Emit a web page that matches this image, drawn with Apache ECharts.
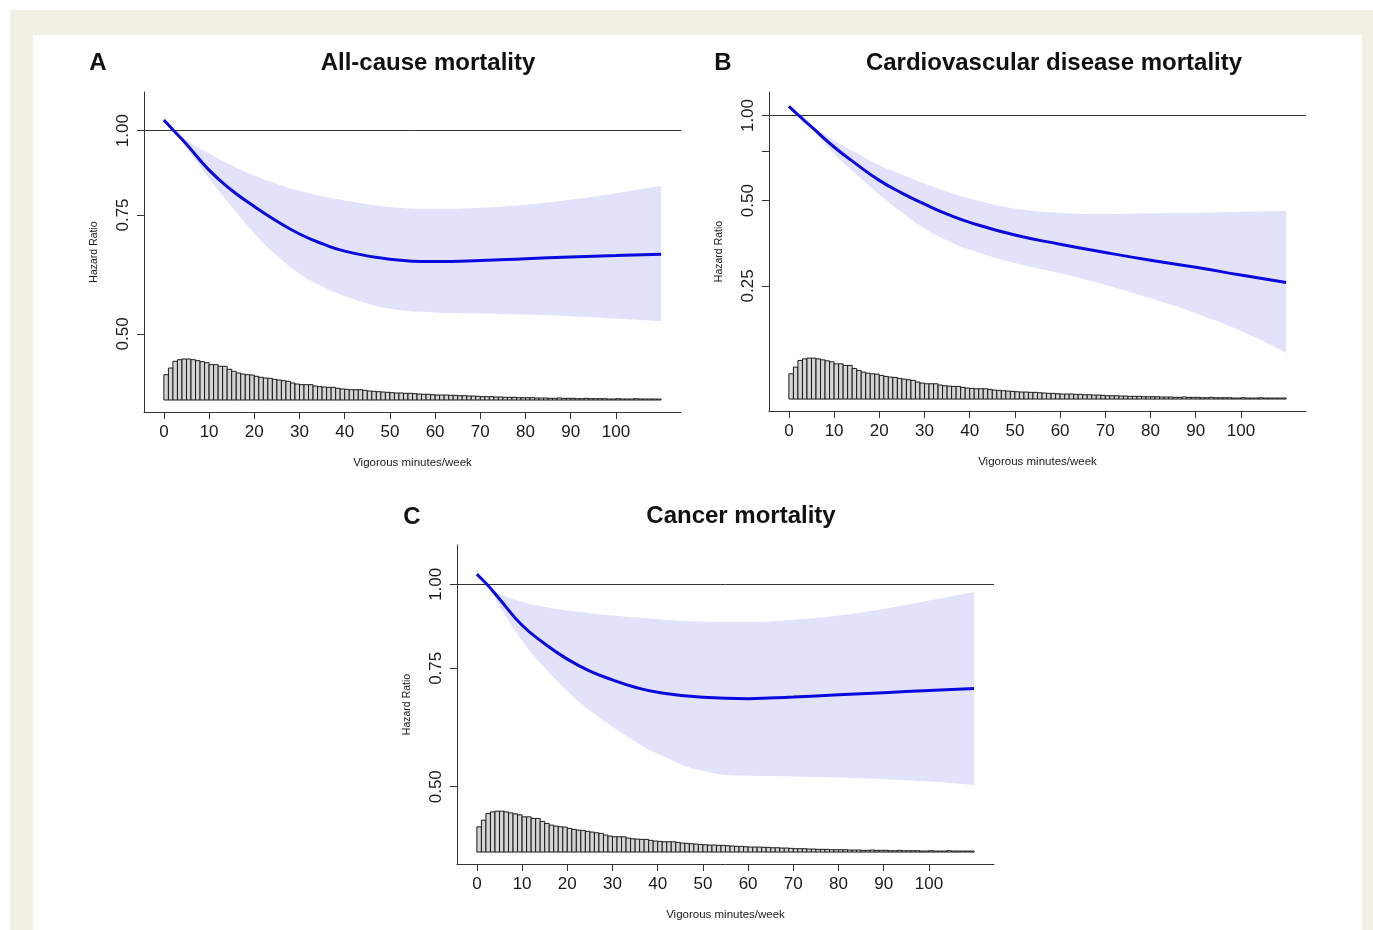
<!DOCTYPE html>
<html><head><meta charset="utf-8">
<script src="https://cdn.jsdelivr.net/npm/echarts@6/dist/echarts.min.js"></script>
<style>
html,body{margin:0;padding:0;background:#fff;overflow:hidden;}
#frame{position:absolute;left:10px;top:10px;width:1363px;height:920px;background:#efefe3;}
#inner{position:absolute;left:33px;top:35px;width:1329px;height:895px;background:#fff;}
#chart{position:absolute;left:0;top:0;width:1373px;height:930px;}
</style></head><body>
<div id="frame"></div><div id="inner"></div><div id="chart"></div>
<script>
// ---- data ----
const xMinutes = [0, 2.2, 5, 10, 15, 20, 25, 30, 35, 40, 50, 60, 70, 80, 90, 100, 110];
const xTicks = [0, 10, 20, 30, 40, 50, 60, 70, 80, 90, 100];

// A: all-cause mortality (hazard ratio, 95% CI)
const hrAll = [1.037, 1.000, 0.955, 0.874, 0.816, 0.772, 0.734, 0.703, 0.680, 0.663, 0.645, 0.640, 0.642, 0.646, 0.650, 0.653, 0.656];
const hiAll = [1.047, 1.000, 0.968, 0.925, 0.888, 0.858, 0.834, 0.815, 0.800, 0.788, 0.771, 0.766, 0.769, 0.777, 0.790, 0.808, 0.829];
const loAll = [1.026, 1.000, 0.942, 0.850, 0.772, 0.705, 0.653, 0.614, 0.588, 0.569, 0.545, 0.538, 0.536, 0.534, 0.531, 0.527, 0.522];

// B: cardiovascular disease mortality
const hrCvd = [1.078, 1.000, 0.911, 0.774, 0.672, 0.590, 0.532, 0.486, 0.448, 0.419, 0.378, 0.351, 0.328, 0.308, 0.291, 0.273, 0.257];
const hiCvd = [1.091, 1.000, 0.923, 0.816, 0.737, 0.667, 0.619, 0.575, 0.538, 0.509, 0.469, 0.453, 0.448, 0.451, 0.453, 0.457, 0.460];
const loCvd = [1.066, 1.000, 0.900, 0.733, 0.619, 0.527, 0.454, 0.399, 0.362, 0.336, 0.301, 0.277, 0.252, 0.226, 0.200, 0.173, 0.145];

// C: cancer mortality
const hrCan = [1.035, 1.000, 0.951, 0.869, 0.816, 0.774, 0.743, 0.721, 0.703, 0.691, 0.679, 0.676, 0.680, 0.685, 0.690, 0.695, 0.700];
const hiCan = [1.057, 1.000, 0.969, 0.942, 0.925, 0.914, 0.906, 0.899, 0.893, 0.887, 0.880, 0.879, 0.886, 0.899, 0.919, 0.946, 0.974];
const loCan = [1.015, 1.000, 0.928, 0.825, 0.752, 0.694, 0.649, 0.614, 0.584, 0.560, 0.528, 0.519, 0.518, 0.516, 0.513, 0.509, 0.503];

// histogram of vigorous minutes/week, 1-minute bins starting at 0 (relative frequency, arbitrary units)
const histStart = 0;
const histBinWidth = 1;
const histFreq = [25.3,32,38.7,40.3,41,41,40.3,39.3,38.3,37.3,
  35.3,35.3,33.7,33.7,30.7,28.7,27,26,25.3,25,
  23.7,22.7,22,21.7,20.7,20,19.3,18.7,17,16,
  15.3,15.3,15.3,14,13.3,13,12.7,12.7,11.7,11,
  10.7,10.3,10.3,10.3,9.7,9,8.7,8.3,8,7.7,
  7.3,7,7,6.7,6.7,6.3,6,5.7,5.7,5.3,
  5,5,5,4.7,4.7,4.3,4.3,4,4,3.7,
  3.3,3.3,3.3,3,3,2.7,2.7,2.7,2.3,2.3,
  2.3,2.3,2,2,2,1.7,1.7,2,1.7,1.7,
  1.7,1.3,1.3,1.7,1.3,1.3,1.3,1.3,1,1,
  1.3,1,1,1,1.3,1,1,1,1,1];

const panelLetters = ['A', 'B', 'C'];
const panelTitles = ['All-cause mortality', 'Cardiovascular disease mortality', 'Cancer mortality'];
const yTicksA = [0.50, 0.75, 1.00], yLabelsA = [0.50, 0.75, 1.00];
const yTicksB = [0.25, 0.50, 0.75, 1.00], yLabelsB = [0.25, 0.50, 1.00];
const yTicksC = [0.50, 0.75, 1.00], yLabelsC = [0.50, 0.75, 1.00];
const yRangeA = [0.383, 1.141], yRangeB = [0.0903, 1.211], yRangeC = [0.3838, 1.144];
const xRange = [-4.4, 114.4];
const histRange = [-12, 308];

// ---- layout / style ----
const FONT = "'Liberation Sans', Arial, Helvetica, sans-serif";
const grids = [
  {left: 144, top: 92, width: 537, height: 320},
  {left: 769, top: 92, width: 537, height: 319},
  {left: 457, top: 545, width: 537, height: 319}
];
const titlePos = [
  {letter: [98, 63], title: [428, 63]},
  {letter: [723, 63], title: [1054, 63]},
  {letter: [412, 517], title: [741, 516]}
];
const BAND = '#e2e2fb', LINE = '#0a0ade', AXIS = '#333', TXT = '#1a1a1a';

const panels = [
  {hr: hrAll, hi: hiAll, lo: loAll, ticks: yTicksA, labels: yLabelsA, range: yRangeA},
  {hr: hrCvd, hi: hiCvd, lo: loCvd, ticks: yTicksB, labels: yLabelsB, range: yRangeB},
  {hr: hrCan, hi: hiCan, lo: loCan, ticks: yTicksC, labels: yLabelsC, range: yRangeC}
];

const ln = Math.log;
const SMOOTH = 0.5;
const xAxis = [], yAxis = [], series = [], graphic = [];

panels.forEach((p, i) => {
  xAxis.push({
    gridIndex: i, type: 'value', min: xRange[0], max: xRange[1], z: 5,
    axisLine: {show: true, onZero: false, lineStyle: {color: AXIS, width: 1}},
    axisTick: {show: true, customValues: xTicks, length: 7, lineStyle: {color: AXIS}},
    axisLabel: {customValues: xTicks, fontSize: 17, color: TXT, margin: 12, fontFamily: FONT},
    splitLine: {show: false},
    name: 'Vigorous minutes/week', nameLocation: 'middle', nameGap: 45,
    nameTextStyle: {fontSize: 11.5, color: TXT, fontFamily: FONT}
  });
  yAxis.push({
    gridIndex: i, type: 'value', min: ln(p.range[0]), max: ln(p.range[1]), z: 5,
    axisLine: {show: true, onZero: false, lineStyle: {color: AXIS, width: 1}},
    axisTick: {show: true, customValues: p.ticks.map(ln), length: 7, lineStyle: {color: AXIS}},
    axisLabel: {customValues: p.labels.map(ln), formatter: v => Math.exp(v).toFixed(2),
      rotate: 90, fontSize: 17, color: TXT, margin: 12, fontFamily: FONT},
    splitLine: {show: false},
    name: 'Hazard Ratio', nameLocation: 'middle', nameGap: 44,
    nameTextStyle: {fontSize: 10.5, color: TXT, fontFamily: FONT}
  });
  yAxis.push({
    gridIndex: i, type: 'value', min: histRange[0], max: histRange[1], show: false,
    splitLine: {show: false}
  });
  const ya = 2 * i, yh = 2 * i + 1;
  // confidence band: area under the upper bound, then the area under the lower bound painted white
  series.push({
    type: 'line', xAxisIndex: i, yAxisIndex: ya, smooth: SMOOTH,
    symbol: 'none', silent: true, lineStyle: {width: 0, opacity: 0}, z: 1,
    areaStyle: {color: BAND, opacity: 1, origin: 'start'},
    data: xMinutes.map((x, k) => [x, ln(p.hi[k])])
  });
  series.push({
    type: 'line', xAxisIndex: i, yAxisIndex: ya, smooth: SMOOTH,
    symbol: 'none', silent: true, lineStyle: {width: 0, opacity: 0}, z: 2,
    areaStyle: {color: '#ffffff', opacity: 1, origin: 'start'},
    data: xMinutes.map((x, k) => [x, ln(p.lo[k])])
  });
  // histogram
  series.push({
    type: 'custom', xAxisIndex: i, yAxisIndex: yh, silent: true, z: 3,
    data: histFreq.map((f, k) => [histStart + k * histBinWidth, f]),
    renderItem: (params, api) => {
      const x0 = api.value(0), f = api.value(1);
      const a = api.coord([x0, 0]);
      const b = api.coord([x0 + histBinWidth, f]);
      return {type: 'rect', shape: {x: a[0], y: b[1], width: b[0] - a[0], height: a[1] - b[1]},
        style: {fill: '#d4d4d4', stroke: '#1a1a1a', lineWidth: 1}};
    }
  });
  // hazard ratio curve + reference line at HR = 1
  series.push({
    type: 'line', xAxisIndex: i, yAxisIndex: ya, smooth: SMOOTH,
    symbol: 'none', silent: true, z: 6,
    lineStyle: {color: LINE, width: 3},
    data: xMinutes.map((x, k) => [x, ln(p.hr[k])]),
    markLine: {silent: true, symbol: 'none', label: {show: false},
      lineStyle: {color: '#333', width: 1, type: 'solid'},
      data: [{yAxis: ln(1)}]}
  });
  graphic.push({type: 'text', x: titlePos[i].letter[0], y: titlePos[i].letter[1],
    style: {text: panelLetters[i], font: 'bold 24px ' + FONT, fill: '#111', align: 'center', verticalAlign: 'middle'}});
  graphic.push({type: 'text', x: titlePos[i].title[0], y: titlePos[i].title[1],
    style: {text: panelTitles[i], font: 'bold 24px ' + FONT, fill: '#111', align: 'center', verticalAlign: 'middle'}});
});

const chart = echarts.init(document.getElementById('chart'), null, {renderer: 'canvas'});
chart.setOption({
  animation: false,
  backgroundColor: 'transparent',
  grid: grids,
  xAxis, yAxis, series, graphic
});
</script>
</body></html>
